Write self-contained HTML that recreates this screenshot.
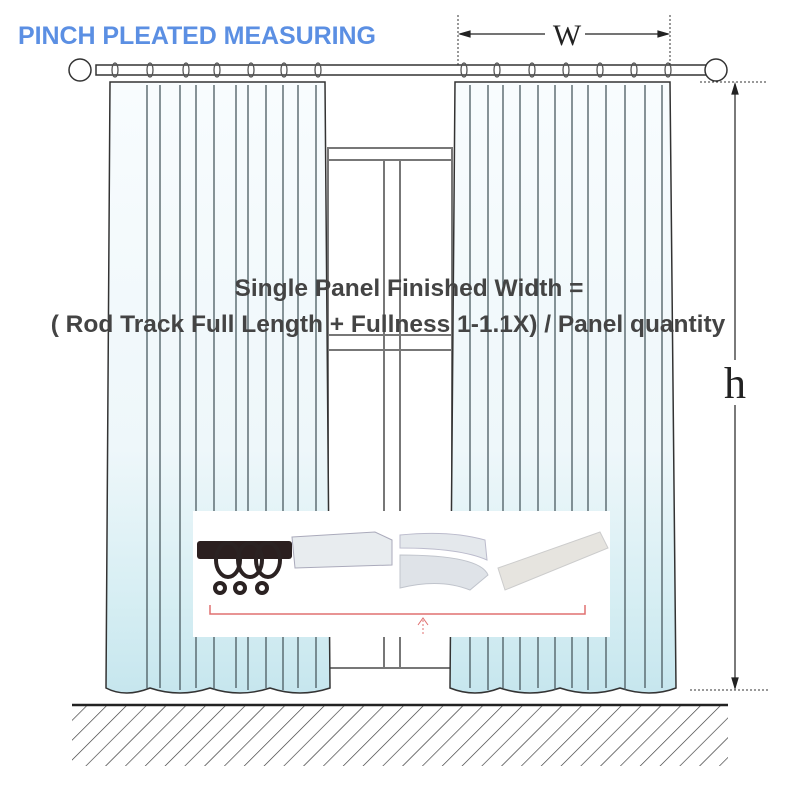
<!DOCTYPE html>
<html><head><meta charset="utf-8"><style>
body{margin:0;background:#fff}
svg{display:block}
</style></head><body>
<svg width="800" height="800" viewBox="0 0 800 800" xmlns="http://www.w3.org/2000/svg">
<defs>
<linearGradient id="cg" x1="0" y1="0" x2="0" y2="1">
<stop offset="0" stop-color="#f8fcfe"/><stop offset="0.6" stop-color="#eef7fa"/><stop offset="0.85" stop-color="#d6eef3"/><stop offset="1" stop-color="#c6e6ee"/>
</linearGradient>
<pattern id="hatch" width="14" height="14" patternUnits="userSpaceOnUse" patternTransform="rotate(45)">
<line x1="0" y1="0" x2="0" y2="14" stroke="#333" stroke-width="1.3"/>
</pattern>
</defs>
<g stroke="#777" stroke-width="2" fill="none">
<rect x="328" y="148" width="124" height="520"/>
<line x1="328" y1="160" x2="452" y2="160"/>
<line x1="384" y1="160" x2="384" y2="668"/>
<line x1="400" y1="160" x2="400" y2="668"/>
<line x1="328" y1="335" x2="452" y2="335"/>
<line x1="328" y1="350" x2="452" y2="350"/>
</g>
<path d="M110 82 L325 82 L330 688 Q300 698 270 688 Q240 698 210 688 Q180 698 150 688 Q125 698 106 688 Z" fill="url(#cg)" stroke="#333" stroke-width="1.5"/>
<path d="M455 82 L670 82 L676 688 Q650 698 620 688 Q590 698 560 688 Q530 698 500 688 Q475 698 450 688 Z" fill="url(#cg)" stroke="#333" stroke-width="1.5"/>
<g stroke="#4a5a60" stroke-width="1.3">
<line x1="147" y1="85" x2="147" y2="688"/><line x1="160" y1="85" x2="160" y2="688"/>
<line x1="180" y1="85" x2="180" y2="690"/><line x1="196" y1="85" x2="196" y2="688"/>
<line x1="214" y1="85" x2="214" y2="690"/><line x1="236" y1="85" x2="236" y2="688"/>
<line x1="248" y1="85" x2="248" y2="690"/><line x1="266" y1="85" x2="266" y2="688"/>
<line x1="283" y1="85" x2="283" y2="690"/><line x1="298" y1="85" x2="298" y2="688"/>
<line x1="316" y1="85" x2="316" y2="688"/>
<line x1="470" y1="85" x2="470" y2="688"/><line x1="488" y1="85" x2="488" y2="690"/>
<line x1="503" y1="85" x2="503" y2="688"/><line x1="520" y1="85" x2="520" y2="690"/>
<line x1="538" y1="85" x2="538" y2="688"/><line x1="555" y1="85" x2="555" y2="690"/>
<line x1="572" y1="85" x2="572" y2="688"/><line x1="588" y1="85" x2="588" y2="690"/>
<line x1="606" y1="85" x2="606" y2="688"/><line x1="625" y1="85" x2="625" y2="690"/>
<line x1="645" y1="85" x2="645" y2="688"/><line x1="662" y1="85" x2="662" y2="688"/>
</g>
<rect x="96" y="65" width="610" height="10" fill="#fff" stroke="#333" stroke-width="1.5"/>
<circle cx="80" cy="70" r="11" fill="#fff" stroke="#333" stroke-width="1.5"/>
<circle cx="716" cy="70" r="11" fill="#fff" stroke="#333" stroke-width="1.5"/>
<g fill="none" stroke="#555" stroke-width="1.3">
<ellipse cx="115" cy="70" rx="3" ry="7"/><ellipse cx="150" cy="70" rx="3" ry="7"/><ellipse cx="186" cy="70" rx="3" ry="7"/><ellipse cx="217" cy="70" rx="3" ry="7"/><ellipse cx="251" cy="70" rx="3" ry="7"/><ellipse cx="284" cy="70" rx="3" ry="7"/><ellipse cx="318" cy="70" rx="3" ry="7"/>
<ellipse cx="464" cy="70" rx="3" ry="7"/><ellipse cx="497" cy="70" rx="3" ry="7"/><ellipse cx="532" cy="70" rx="3" ry="7"/><ellipse cx="566" cy="70" rx="3" ry="7"/><ellipse cx="600" cy="70" rx="3" ry="7"/><ellipse cx="634" cy="70" rx="3" ry="7"/><ellipse cx="668" cy="70" rx="3" ry="7"/>
</g>
<rect x="72" y="706" width="656" height="60" fill="url(#hatch)"/>
<line x1="72" y1="705" x2="728" y2="705" stroke="#222" stroke-width="2.5"/>
<g stroke="#333" stroke-width="1" stroke-dasharray="2,2">
<line x1="458" y1="15" x2="458" y2="65"/><line x1="670" y1="15" x2="670" y2="65"/>
<line x1="700" y1="82" x2="768" y2="82"/><line x1="690" y1="690" x2="768" y2="690"/>
</g>
<g stroke="#222" stroke-width="1.2" fill="#222">
<line x1="460" y1="34" x2="545" y2="34"/><line x1="585" y1="34" x2="668" y2="34"/>
<path d="M460 34 l10 -3 v6z"/><path d="M668 34 l-10 -3 v6z"/>
<line x1="735" y1="84" x2="735" y2="688"/>
<path d="M735 84 l-3 10 h6z"/><path d="M735 688 l-3 -10 h6z"/>
</g>
<text x="567" y="45" font-family="Liberation Serif,serif" font-size="30" text-anchor="middle" fill="#222">W</text>
<rect x="715" y="360" width="40" height="45" fill="#fff"/>
<text x="735" y="398" font-family="Liberation Serif,serif" font-size="44" text-anchor="middle" fill="#222">h</text>
<text x="18" y="44" font-family="Liberation Sans,sans-serif" font-weight="bold" font-size="25" textLength="358" fill="#5b8fe3">PINCH PLEATED MEASURING</text>
<g font-family="Liberation Sans,sans-serif" font-weight="bold" font-size="24.5" fill="#444" text-anchor="middle">
<text x="409" y="296">Single Panel Finished Width =</text>
<text x="388" y="332">( Rod Track Full Length + Fullness 1-1.1X) / Panel quantity</text>
</g>
<rect x="193" y="511" width="417" height="126" fill="#fff"/>
<rect x="197" y="541" width="95" height="18" rx="3" fill="#2b1f1f"/>
<g fill="none" stroke="#2b2222" stroke-width="4">
<ellipse cx="228" cy="560" rx="12" ry="17"/><ellipse cx="250" cy="560" rx="12" ry="17"/><ellipse cx="268" cy="560" rx="12" ry="17"/>
<circle cx="220" cy="588" r="5"/><circle cx="240" cy="588" r="5"/><circle cx="262" cy="588" r="5"/>
</g>
<path d="M292 537 L375 532 L392 540 L392 565 L295 568 Z" fill="#e8ecef" stroke="#aab" stroke-width="1"/>
<path d="M400 535 Q450 530 485 540 L487 560 Q460 548 400 548 Z" fill="#e4e8ec" stroke="#bbc"/>
<path d="M400 555 Q480 555 488 575 L470 590 Q440 578 400 588 Z" fill="#dfe3e8" stroke="#c0c4cc"/>
<path d="M498 568 L600 532 L608 548 L505 590 Z" fill="#e6e4df" stroke="#ccc"/>
<path d="M210 605 V614 H585 V605" stroke="#e07070" stroke-width="1.5" fill="none"/>
<line x1="423" y1="620" x2="423" y2="636" stroke="#e07070" stroke-width="1" stroke-dasharray="2,2"/>
<path d="M418 625 L423 618 L428 625" stroke="#e07070" fill="none"/>
</svg>
</body></html>
